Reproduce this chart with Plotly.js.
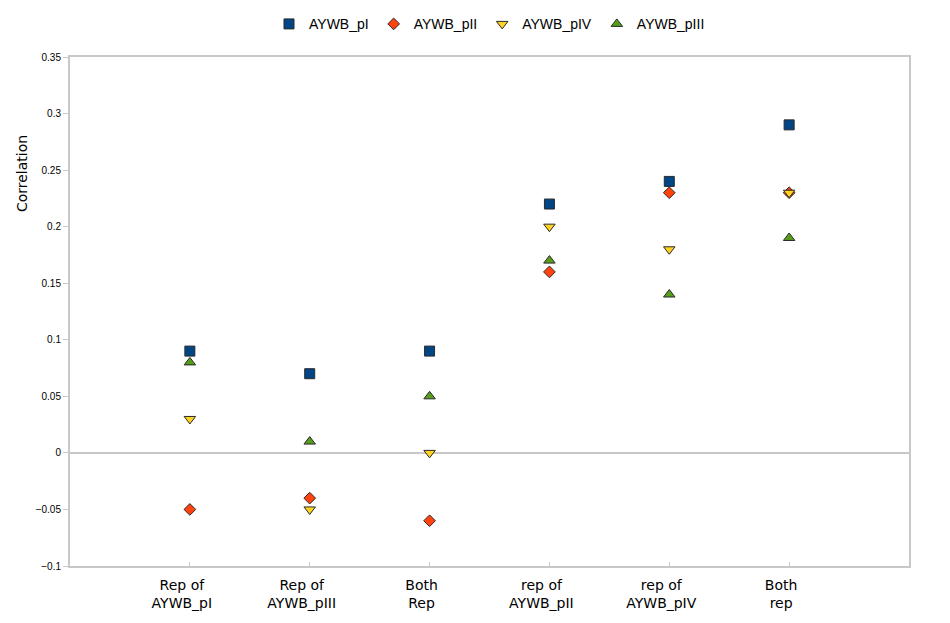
<!DOCTYPE html>
<html>
<head>
<meta charset="utf-8">
<script src="https://cdn.plot.ly/plotly-3.0.1.min.js"></script>
<style>
  html, body { margin: 0; padding: 0; background: #fff; }
  #chart { width: 950px; height: 623px; }
</style>
</head>
<body>
<div id="chart"></div>
<script>
// categories on the x axis
const categories = ['Rep of<br>AYWB_pI', 'Rep of<br>AYWB_pIII', 'Both<br>Rep', 'rep of<br>AYWB_pII', 'rep of<br>AYWB_pIV', 'Both<br>rep'];

// correlation values per series
const pI   = [0.09, 0.07, 0.09, 0.22, 0.24, 0.29];
const pII  = [-0.05, -0.04, -0.06, 0.16, 0.23, 0.23];
const pIV  = [0.03, -0.05, 0.00, 0.20, 0.18, 0.23];
const pIII = [0.08, 0.01, 0.05, 0.17, 0.14, 0.19];

function series(name, values, color, symbol, size) {
    return {
        x: categories,
        y: values,
        name: name,
        type: 'scatter',
        mode: 'markers',
        marker: {
            color: color,
            symbol: symbol,
            size: size,
            line: { color: '#2a2a2a', width: 1 }
        }
    };
}

const traces = [
    series('AYWB_pI', pI, '#004586', 'square', 10),
    series('AYWB_pII', pII, '#ff420e', 'diamond', 9),
    series('AYWB_pIV', pIV, '#ffd320', 'triangle-down', 10),
    series('AYWB_pIII', pIII, '#579d1c', 'triangle-up', 10)
];

const layout = {
    width: 950,
    height: 623,
    margin: { l: 70, r: 41, t: 57, b: 57 },
    paper_bgcolor: '#ffffff',
    plot_bgcolor: '#ffffff',
    font: { family: 'Liberation Sans, Arial, sans-serif', color: '#000' },
    showlegend: true,
    legend: {
        orientation: 'h',
        x: 0.5,
        xanchor: 'center',
        y: 0.961,
        yref: 'container',
        yanchor: 'middle',
        font: { size: 14, family: 'Liberation Sans, Arial, sans-serif' },
        itemwidth: 30,
        tracegroupgap: 0
    },
    xaxis: {
        type: 'category',
        range: [-1, 6],
        showgrid: false,
        zeroline: false,
        showline: true,
        linecolor: '#c8c8c8',
        linewidth: 2,
        mirror: true,
        ticks: 'inside',
        ticklen: 4,
        tickcolor: '#c8c8c8',
        tickfont: { size: 14, family: 'DejaVu Sans, sans-serif', color: '#000' },
        ticklabelstandoff: 5,
        ticklabelshift: -8
    },
    yaxis: {
        range: [-0.1, 0.35],
        dtick: 0.05,
        showgrid: false,
        zeroline: true,
        zerolinecolor: '#c8c8c8',
        zerolinewidth: 2,
        showline: true,
        linecolor: '#c8c8c8',
        linewidth: 2,
        mirror: true,
        ticks: 'outside',
        ticklen: 5,
        tickcolor: '#c8c8c8',
        tickfont: { size: 10, family: 'Liberation Sans, Arial, sans-serif', color: '#000' }
    },
    annotations: [{
        text: 'Correlation',
        textangle: -90,
        xref: 'paper',
        yref: 'paper',
        x: 0,
        y: 0.77,
        xanchor: 'center',
        yanchor: 'middle',
        xshift: -48,
        showarrow: false,
        font: { size: 14, family: 'DejaVu Sans, sans-serif', color: '#000' }
    }]
};

Plotly.newPlot('chart', traces, layout, { displayModeBar: false });
</script>
</body>
</html>
